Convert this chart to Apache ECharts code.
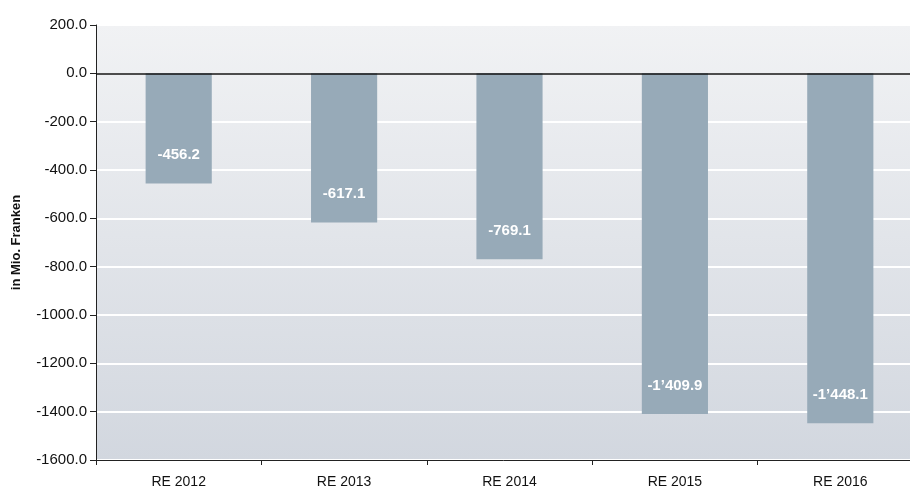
<!DOCTYPE html>
<html lang="de">
<head>
    <meta charset="UTF-8">
    <title>Rechnungsergebnis</title>
    <style>
        html, body { margin: 0; padding: 0; background: #fff; }
        #main { width: 910px; height: 490px; }
    </style>
    <script src="https://cdn.jsdelivr.net/npm/echarts@6/dist/echarts.min.js"></script>
</head>
<body>
<div id="main"></div>
<script>
    var years = ['RE 2012', 'RE 2013', 'RE 2014', 'RE 2015', 'RE 2016'];
    var values = [-456.2, -617.1, -769.1, -1409.9, -1448.1];   // in Mio. Franken
    var yTicks = [200, 0, -200, -400, -600, -800, -1000, -1200, -1400, -1600];

    var fontFam = '"Liberation Sans", Arial, sans-serif';

    // Schweizer Tausendertrennzeichen
    function fmt(v) {
        var s = Math.abs(v).toFixed(1).split('.');
        var intPart = s[0].replace(/\B(?=(\d{3})+(?!\d))/g, '\u2019');
        return (v < 0 ? '-' : '') + intPart + '.' + s[1];
    }

    var myChart = echarts.init(document.getElementById('main'));

    var option = {
        animation: false,
        grid: {
            left: 96,
            width: 827,     // laeuft rechts ueber den Rand hinaus wie im Original
            top: 25,
            height: 435,
            outerBoundsMode: 'none',
            containLabel: false,
            show: true,
            borderWidth: 0,
            backgroundColor: new echarts.graphic.LinearGradient(0, 0, 0, 1, [
                { offset: 0, color: '#f1f2f4' },
                { offset: 1, color: '#d2d7df' }
            ])
        },
        xAxis: {
            type: 'category',
            data: years,
            axisLine: { onZero: false, lineStyle: { color: '#222', width: 1 } },
            axisTick: { show: true, length: 5, lineStyle: { color: '#222' } },
            axisLabel: {
                color: '#111',
                fontFamily: fontFam,
                fontSize: 14,
                margin: 15
            },
            splitLine: { show: false }
        },
        yAxis: {
            type: 'value',
            min: yTicks[yTicks.length - 1],
            max: yTicks[0],
            interval: 200,
            name: 'in Mio. Franken',
            nameLocation: 'middle',
            nameGap: 73,
            nameTextStyle: {
                color: '#111',
                fontFamily: fontFam,
                fontSize: 13,
                fontWeight: 'bold'
            },
            axisLine: { show: true, lineStyle: { color: '#222', width: 1 } },
            axisTick: { show: true, length: 6, lineStyle: { color: '#222' } },
            axisLabel: {
                color: '#111',
                fontFamily: fontFam,
                fontSize: 15,
                margin: 9,
                formatter: function (v) { return v.toFixed(1); }
            },
            splitLine: { show: true, lineStyle: { color: '#ffffff', width: 2 } }
        },
        series: [{
            type: 'bar',
            data: values,
            barWidth: '40%',
            itemStyle: { color: '#97aab8' },
            label: {
                show: true,
                position: 'insideBottom',
                distance: 21,
                color: '#ffffff',
                fontFamily: fontFam,
                fontSize: 15,
                fontWeight: 'bold',
                formatter: function (p) { return fmt(p.value); }
            },
            markLine: {
                silent: true,
                symbol: 'none',
                label: { show: false },
                lineStyle: { color: '#111', type: 'solid', width: 1.5 },
                data: [{ yAxis: 0 }]
            }
        }]
    };

    myChart.setOption(option);
</script>
</body>
</html>
